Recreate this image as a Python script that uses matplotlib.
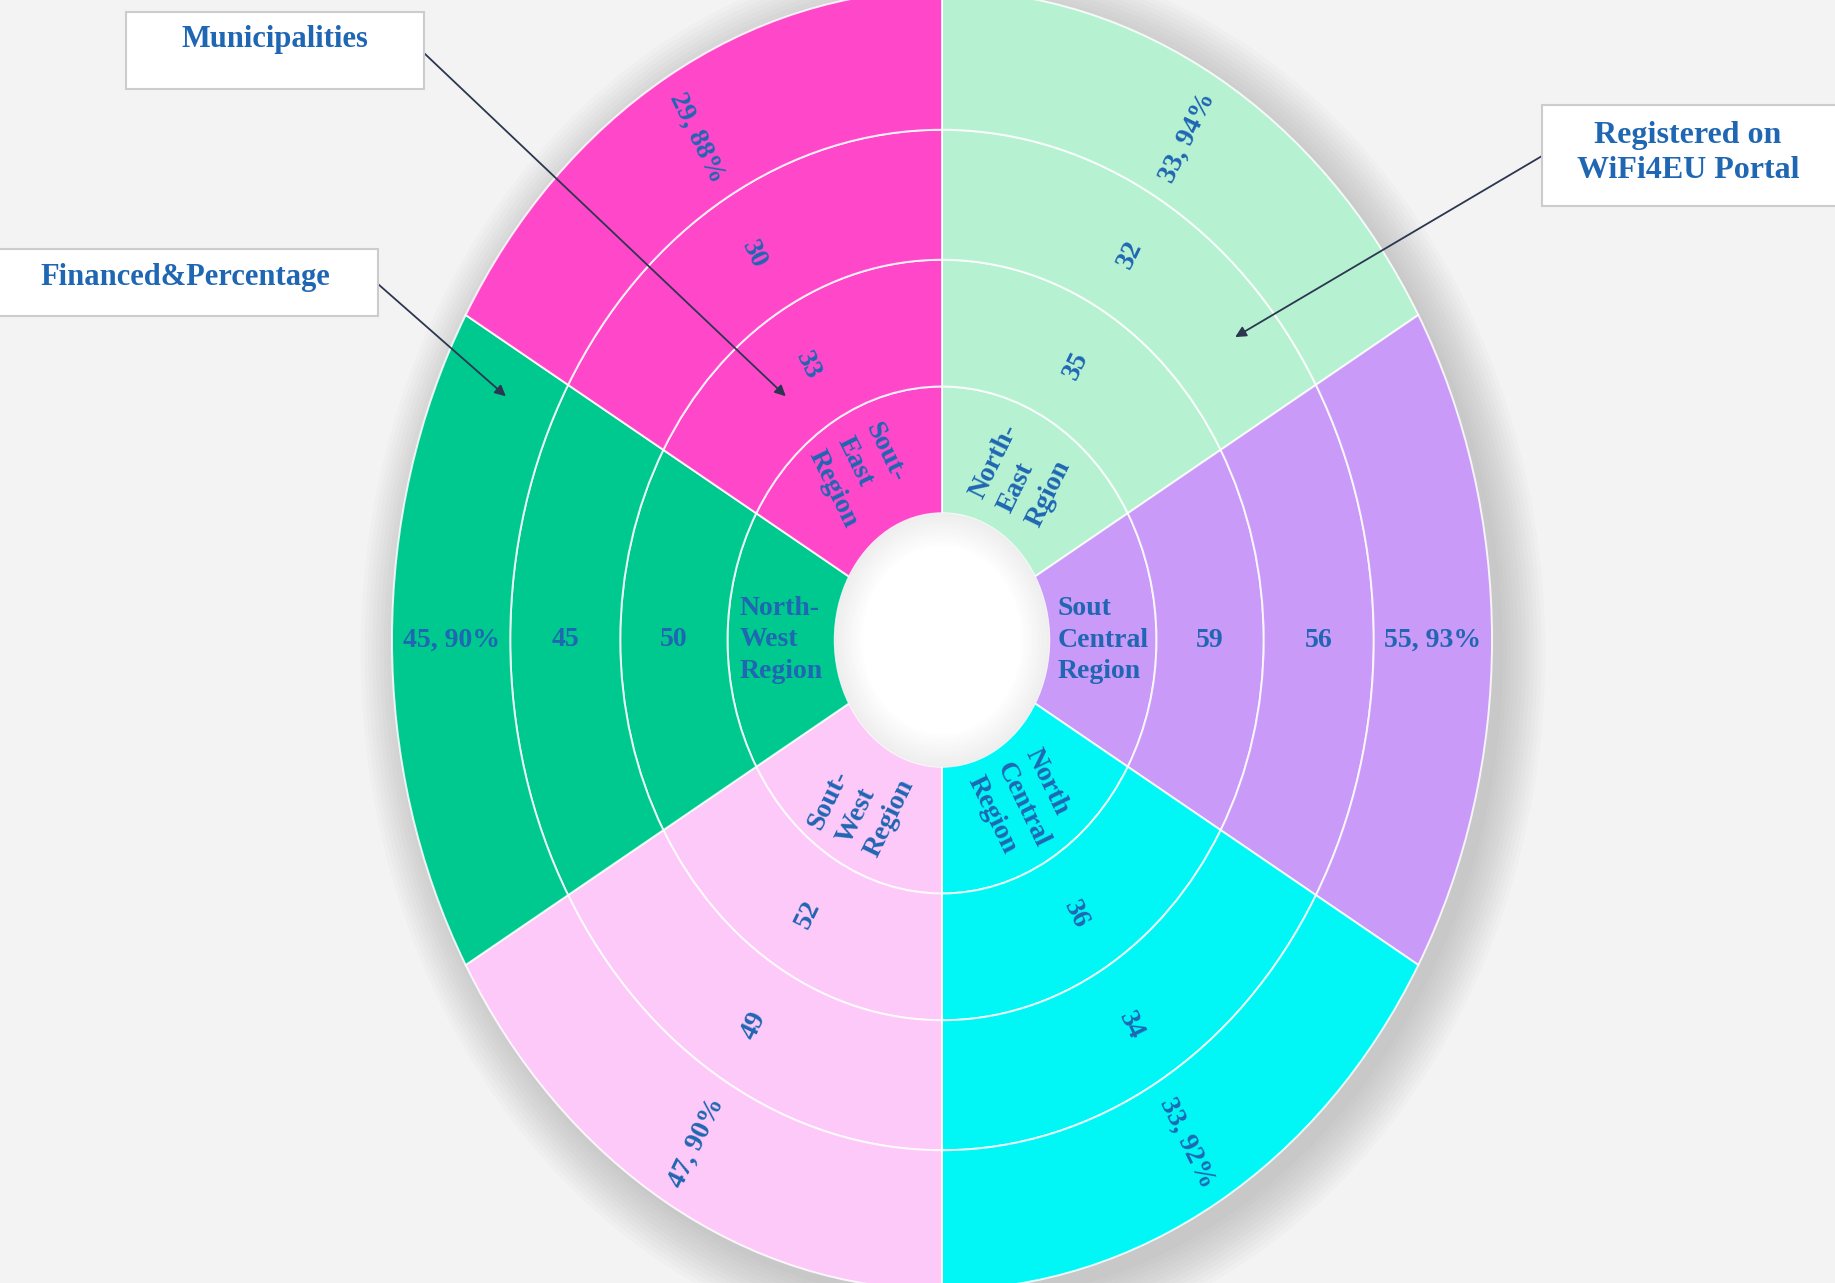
import numpy as np
import matplotlib.pyplot as plt
from matplotlib.patches import Circle, Wedge, Rectangle

# data, clockwise from the top
regions = ['North-\nEast\nRgion', 'Sout\nCentral\nRegion', 'North\nCentral\nRegion',
           'Sout-\nWest\nRegion', 'North-\nWest\nRegion', 'Sout-\nEast\nRegion']
municipalities = [35, 59, 36, 52, 50, 33]
registered = [32, 56, 34, 49, 45, 30]
financed = [33, 55, 33, 47, 45, 29]
financed_pct = [94, 93, 92, 90, 90, 88]
sector_share = [1, 1, 1, 1, 1, 1]
colors = ['#b6f2d2', '#c99af7', '#00f7f5', '#fdc9f9', '#00c98f', '#fe48c9']

ring_labels = [
    regions,
    [str(v) for v in municipalities],
    [str(v) for v in registered],
    ['%d, %d%%' % (f, p) for f, p in zip(financed, financed_pct)],
]
bounds = [0.195, 0.39, 0.585, 0.785, 1.0]

W, H = 1835, 1283
cx, cy = 942, 643      # centre of chart in pixels (from bottom)
rx, ry = 550, 650      # pixel radii of the (stretched) chart
txt_color = '#1f66b3'
font = 'Liberation Serif'

fig = plt.figure(figsize=(W / 100, H / 100), dpi=100)
fig.patch.set_facecolor('#f3f3f3')
ax = fig.add_axes([0, 0, 1, 1])
ax.set_facecolor('#f3f3f3')

# soft shadow round the outer edge
for k in range(12):
    ax.add_patch(Circle((0.02, -0.02), 1.0 + k * 0.007, facecolor='#7a7a7a',
                        alpha=0.03, lw=0, zorder=0))

wedge_sets = []
for i in range(4):
    wedges, _ = ax.pie(sector_share, radius=bounds[i + 1], startangle=90,
                       counterclock=False, colors=colors,
                       wedgeprops=dict(width=bounds[i + 1] - bounds[i],
                                       edgecolor=(1, 1, 1, 0.85), linewidth=1.4))
    wedge_sets.append(wedges)

# labels, rotated along the radius
for i in range(4):
    rmid = (bounds[i] + bounds[i + 1]) / 2
    for w, lab in zip(wedge_sets[i], ring_labels[i]):
        a = np.deg2rad((w.theta1 + w.theta2) / 2)
        x, y = rmid * np.cos(a), rmid * np.sin(a)
        rot = np.degrees(np.arctan2(ry * np.sin(a), rx * np.cos(a)))
        if rot > 90:
            rot -= 180
        elif rot < -90:
            rot += 180
        ax.text(x, y, lab, rotation=rot, rotation_mode='anchor', ha='center',
                va='center', multialignment='left', fontsize=20,
                fontweight='bold', family=font, color=txt_color,
                linespacing=1.35, zorder=5)

# hole with inner shading
ax.add_patch(Circle((0, 0), bounds[0], facecolor='white', lw=0, zorder=3))
for k in range(10):
    ax.add_patch(Wedge((0, 0), bounds[0] - k * 0.005, 0, 360, width=0.005,
                       facecolor='#8c8c8c', alpha=0.14 * (1 - k / 10), lw=0, zorder=3))

ax.set_aspect('auto')
ax.set_xlim(-cx / rx, (W - cx) / rx)
ax.set_ylim(-cy / ry, (H - cy) / ry)
ax.axis('off')


# annotation boxes (pixel positions from the top-left)
def box(x0, y0, x1, y1):
    fig.add_artist(Rectangle((x0 / W, 1 - y1 / H), (x1 - x0) / W, (y1 - y0) / H,
                             transform=fig.transFigure, facecolor='white',
                             edgecolor='#cccccc', lw=1.5, zorder=4))


box(126, 12, 424, 89)
fig.text(275 / W, 1 - 40 / H, 'Municipalities', ha='center', va='center',
         fontsize=22, fontweight='bold', family=font, color=txt_color, zorder=6)
box(-5, 249, 378, 316)
fig.text(185 / W, 1 - 278 / H, 'Financed&Percentage', ha='center', va='center',
         fontsize=22, fontweight='bold', family=font, color=txt_color, zorder=6)
box(1542, 105, 1840, 206)
fig.text(1688 / W, 1 - 153 / H, 'Registered on\nWiFi4EU Portal', ha='center',
         va='center', fontsize=23, fontweight='bold', family=font,
         color=txt_color, linespacing=1.3, zorder=6)

arrow = dict(arrowstyle='-|>', color='#2c3650', lw=1.3, shrinkA=0, shrinkB=0,
             mutation_scale=16)
ax.annotate('', xy=(-0.284, 0.375), xytext=(424 / W, 1 - 53 / H),
            textcoords='figure fraction', arrowprops=arrow, zorder=7)
ax.annotate('', xy=(-0.793, 0.375), xytext=(378 / W, 1 - 284 / H),
            textcoords='figure fraction', arrowprops=arrow, zorder=7)
ax.annotate('', xy=(0.533, 0.466), xytext=(1542 / W, 1 - 156 / H),
            textcoords='figure fraction', arrowprops=arrow, zorder=7)

fig.savefig('out.png', dpi=100, facecolor=fig.get_facecolor())
